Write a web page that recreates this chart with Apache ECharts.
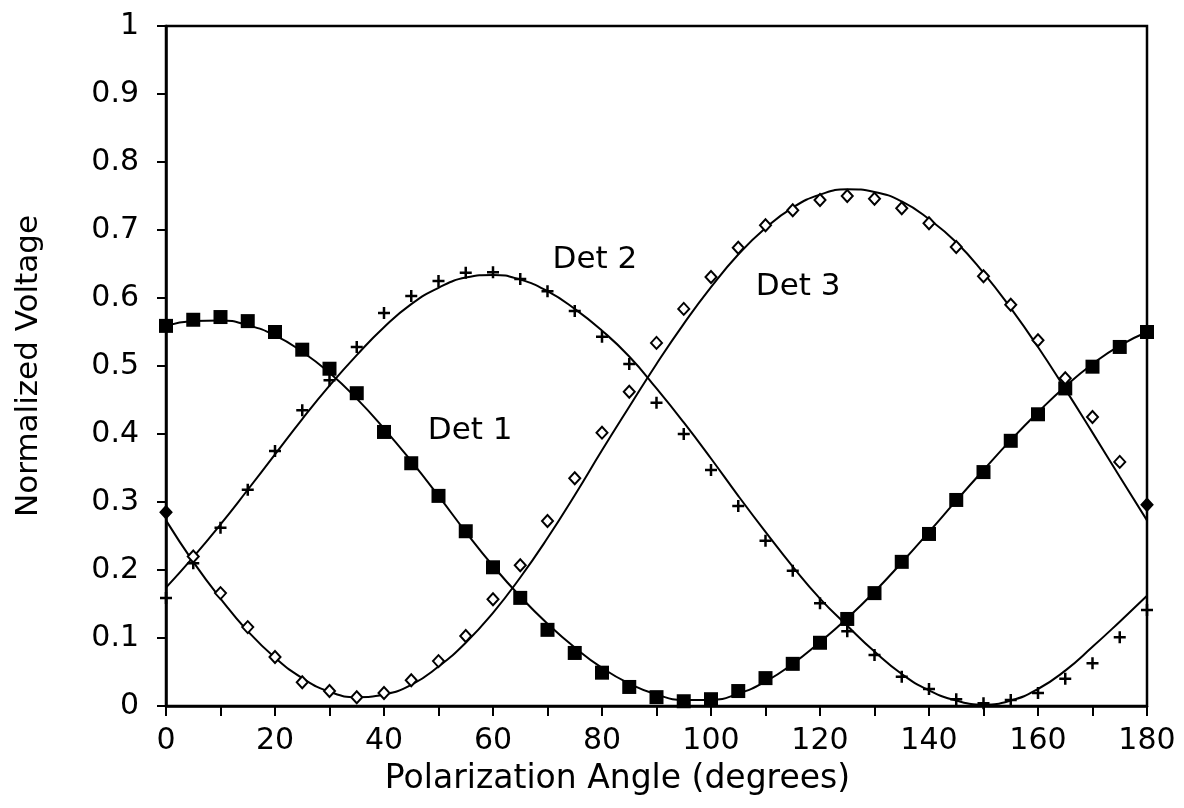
<!DOCTYPE html>
<html>
<head>
<meta charset="utf-8">
<script src="https://cdn.jsdelivr.net/npm/echarts@6/dist/echarts.min.js"></script>
<style>
html,body{margin:0;padding:0;background:#fff;}
#chart{width:1184px;height:808px;}
</style>
</head>
<body>
<div id="chart"></div>
<script>
// Angles (degrees) for measured points and fitted curves
var angles = [0,5,10,15,20,25,30,35,40,45,50,55,60,65,70,75,80,85,90,95,100,105,110,115,120,125,130,135,140,145,150,155,160,165,170,175,180];

// Measured data
var det1Points = [0.559,0.568,0.572,0.566,0.550,0.524,0.496,0.460,0.403,0.357,0.309,0.257,0.204,0.159,0.112,0.078,0.049,0.028,0.013,0.007,0.010,0.022,0.041,0.062,0.093,0.128,0.166,0.212,0.253,0.303,0.344,0.390,0.429,0.467,0.499,0.528,0.550];
var det2Points = [0.159,0.210,0.262,0.318,0.375,0.435,0.479,0.528,0.578,0.603,0.625,0.637,0.638,0.628,0.610,0.581,0.543,0.503,0.446,0.400,0.347,0.294,0.243,0.199,0.151,0.110,0.075,0.043,0.025,0.010,0.004,0.009,0.019,0.040,0.063,0.101,0.141];
var det3Points = [0.285,0.220,0.166,0.116,0.072,0.035,0.022,0.013,0.019,0.038,0.066,0.103,0.157,0.207,0.272,0.335,0.402,0.462,0.534,0.584,0.631,0.674,0.707,0.729,0.744,0.750,0.746,0.732,0.710,0.675,0.632,0.590,0.538,0.482,0.425,0.359,0.296];

// Fitted curves
var det1Fit = [0.559,0.566,0.567,0.560,0.545,0.521,0.490,0.452,0.408,0.360,0.309,0.256,0.206,0.161,0.121,0.086,0.056,0.033,0.017,0.009,0.009,0.018,0.036,0.062,0.094,0.129,0.168,0.211,0.256,0.302,0.347,0.391,0.432,0.470,0.503,0.530,0.550];
var det2Fit = [0.174,0.219,0.267,0.318,0.370,0.422,0.471,0.516,0.557,0.591,0.615,0.630,0.634,0.627,0.610,0.584,0.552,0.514,0.467,0.417,0.364,0.309,0.256,0.205,0.158,0.118,0.080,0.047,0.023,0.008,0.002,0.008,0.025,0.052,0.087,0.124,0.162];
var det3Fit = [0.273,0.212,0.158,0.110,0.071,0.041,0.021,0.013,0.017,0.031,0.058,0.093,0.137,0.189,0.247,0.310,0.376,0.440,0.503,0.562,0.616,0.664,0.703,0.733,0.752,0.760,0.756,0.742,0.716,0.682,0.637,0.585,0.528,0.466,0.402,0.337,0.273];

// Curve labels: [angle, value, text]
var curveLabels = [[55.8,0.404,'Det 1'],[78.7,0.656,'Det 2'],[116.0,0.616,'Det 3']];

// Axis tick settings
var xTickStep = 10, xLabelStep = 20;
var yTickStep = 0.1;

function pairs(xs, ys){ return xs.map(function(x,i){ return [x, ys[i]]; }); }

var FONT = 'DejaVu Sans';
var plusPath = 'path://M4.75,0h2.5v4.75h4.75v2.5h-4.75v4.75h-2.5v-4.75h-4.75v-2.5h4.75z';

var det3Data = pairs(angles, det3Points).map(function(p, i, arr){
  if (i === 0 || i === arr.length - 1) {
    return {value: p, itemStyle: {color: '#000'}};
  }
  return {value: p};
});

var chart = echarts.init(document.getElementById('chart'), null, {renderer: 'canvas'});
chart.setOption({
  backgroundColor: '#fff',
  animation: false,
  grid: {left: 166, right: 37, top: 26, bottom: 102, show: true, borderColor: '#000', borderWidth: 2.5, backgroundColor: 'transparent'},
  xAxis: {
    type: 'value', min: 0, max: 180, interval: xTickStep,
    name: 'Polarization Angle (degrees)', nameLocation: 'middle', nameGap: 57,
    nameTextStyle: {fontFamily: FONT, fontSize: 33, color: '#000', padding: [0, 78, 0, 0]},
    axisLine: {show: true, lineStyle: {color: '#000', width: 2.5}},
    axisTick: {show: true, inside: false, length: 10, lineStyle: {color: '#000', width: 2}},
    axisLabel: {
      fontFamily: FONT, fontSize: 30, color: '#000', margin: 20,
      formatter: function(v){ return (Math.round(v) % xLabelStep === 0) ? String(Math.round(v)) : ''; }
    },
    splitLine: {show: false}
  },
  yAxis: {
    type: 'value', min: 0, max: 1, interval: yTickStep,
    name: 'Normalized Voltage', nameLocation: 'middle', nameGap: 122,
    nameTextStyle: {fontFamily: FONT, fontSize: 31, color: '#000'},
    axisLine: {show: true, lineStyle: {color: '#000', width: 2.5}},
    axisTick: {show: true, inside: false, length: 9, lineStyle: {color: '#000', width: 2}},
    axisLabel: {
      fontFamily: FONT, fontSize: 30, color: '#000', margin: 27,
      formatter: function(v){ return String(Math.round(v * 10) / 10); }
    },
    splitLine: {show: false}
  },
  series: [
    {type: 'line', name: 'Det 1 fit', data: pairs(angles, det1Fit), smooth: 0.5, showSymbol: false, symbol: 'none',
     lineStyle: {color: '#000', width: 2}, z: 2},
    {type: 'line', name: 'Det 2 fit', data: pairs(angles, det2Fit), smooth: 0.5, showSymbol: false, symbol: 'none',
     lineStyle: {color: '#000', width: 2}, z: 2},
    {type: 'line', name: 'Det 3 fit', data: pairs(angles, det3Fit), smooth: 0.5, showSymbol: false, symbol: 'none',
     lineStyle: {color: '#000', width: 2}, z: 2},
    {type: 'scatter', name: 'Det 1', data: pairs(angles, det1Points), symbol: 'rect', symbolSize: 14,
     itemStyle: {color: '#000', opacity: 1}, z: 3},
    {type: 'scatter', name: 'Det 2', data: pairs(angles, det2Points), symbol: plusPath, symbolSize: 12,
     itemStyle: {color: '#000', opacity: 1}, z: 3},
    {type: 'scatter', name: 'Det 3', data: det3Data, symbol: 'diamond', symbolSize: [11, 12],
     itemStyle: {color: '#fff', borderColor: '#000', borderWidth: 2, opacity: 1}, z: 3},
    {type: 'scatter', name: 'labels', data: curveLabels, symbolSize: 0, z: 4,
     itemStyle: {opacity: 1},
     label: {show: true, position: 'inside', formatter: function(p){ return p.value[2]; },
             fontFamily: FONT, fontSize: 31, color: '#000', opacity: 1}}
  ]
});
</script>
</body>
</html>
